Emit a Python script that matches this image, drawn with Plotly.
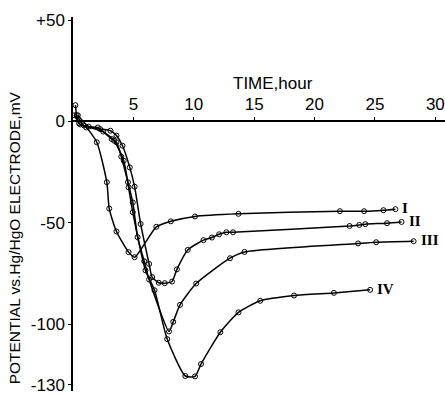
import plotly.graph_objects as go

# Curve I
t1 = [0.1, 0.6, 1.1, 1.97, 2.8, 3.0, 3.6, 4.6, 5.1, 6.9, 8.1, 10.1, 13.7, 22.1, 24.1, 25.7, 26.7]
v1 = [3.0, -1.5, -3.0, -10.3, -30.0, -43.0, -54.3, -64.5, -67.0, -52.0, -49.3, -46.9, -45.6, -44.3, -44.3, -43.8, -43.3]

# Curve II
t2 = [0.3, 0.9, 2.25, 3.1, 3.6, 4.1, 4.7, 5.1, 5.6, 6.3, 6.55, 7.1, 7.6, 8.2, 8.6, 9.5, 10.8, 11.5, 12.1, 12.7, 13.25, 22.9, 23.7, 24.2, 26.0, 27.2]
v2 = [3.0, -2.0, -3.8, -4.6, -7.0, -12.0, -22.7, -32.2, -50.6, -70.3, -76.8, -79.6, -79.8, -79.0, -73.0, -63.4, -58.6, -57.3, -55.7, -54.7, -54.7, -51.6, -51.1, -50.7, -50.2, -49.6]

# Curve III
t3 = [0.4, 1.3, 2.05, 3.2, 3.6, 4.0, 4.55, 4.95, 5.35, 5.9, 6.3, 7.95, 8.3, 8.86, 10.2, 13.0, 14.2, 23.6, 25.1, 28.2]
v3 = [3.0, -2.6, -3.0, -8.7, -10.3, -17.4, -30.0, -40.0, -57.1, -69.0, -78.0, -103.6, -98.9, -90.5, -80.0, -67.5, -64.4, -60.2, -59.6, -59.1]

# Curve IV
t4 = [0.2, 0.5, 2.5, 3.4, 4.2, 4.6, 4.95, 6.0, 6.75, 7.8, 9.3, 10.1, 10.6, 12.2, 13.7, 15.5, 18.3, 21.6, 24.6]
v4 = [8.0, -1.0, -5.0, -9.5, -19.4, -32.5, -44.8, -73.5, -83.3, -107.4, -125.6, -125.8, -119.7, -104.0, -94.2, -88.5, -85.9, -84.6, -83.1]

series = [("I", t1, v1), ("II", t2, v2), ("III", t3, v3), ("IV", t4, v4)]

x_ticks = [5, 10, 15, 20, 25, 30]
y_ticks = [50, 0, -50, -100, -130]
y_ticktext = ["+50", "0", "-50", "-100", "-130"]

y_min, y_max = -133.0, 51.5

fig = go.Figure()
for name, t, v in series:
    fig.add_trace(go.Scatter(
        x=t, y=v, mode="lines+markers", name=name,
        line=dict(color="black", width=1.5, shape="spline", smoothing=0.6),
        marker=dict(symbol="circle-open", size=5, color="black", line=dict(width=1)),
        showlegend=False, hoverinfo="skip"))
    fig.add_annotation(x=t[-1], y=v[-1], text="<b>" + name + "</b>", showarrow=False,
                       xanchor="left", xshift=5, yshift=1,
                       font=dict(family="Liberation Serif", size=15, color="black"))

fig.add_annotation(x=16.6, y=0, yshift=38, text="TIME,hour", showarrow=False,
                   font=dict(family="Liberation Sans", size=17, color="black"))
fig.add_annotation(xref="paper", yref="paper", x=-0.185, y=0.41,
                   text="POTENTIAL vs.Hg/HgO ELECTRODE,mV", textangle=-90, showarrow=False,
                   font=dict(family="Liberation Sans", size=15.5, color="black"))

fig.update_layout(
    width=445, height=395,
    margin=dict(l=73, r=0, t=17, b=2),
    paper_bgcolor="white", plot_bgcolor="white",
    xaxis=dict(range=[0, 30.8], tickvals=x_ticks, side="top", anchor="free",
               position=(0 - y_min) / (y_max - y_min),
               showline=True, linecolor="black", linewidth=1.5,
               ticks="outside", ticklen=4, tickcolor="black", tickwidth=1.2,
               showgrid=False, zeroline=False,
               tickfont=dict(family="Liberation Sans", size=17, color="black")),
    yaxis=dict(range=[y_min, y_max], tickvals=y_ticks, ticktext=y_ticktext,
               showline=True, linecolor="black", linewidth=1.5,
               ticks="outside", ticklen=3, tickcolor="black", tickwidth=1.2,
               showgrid=False, zeroline=False, ticklabeloverflow="allow",
               tickfont=dict(family="Liberation Sans", size=17, color="black")),
)

fig.write_html("out.html")
